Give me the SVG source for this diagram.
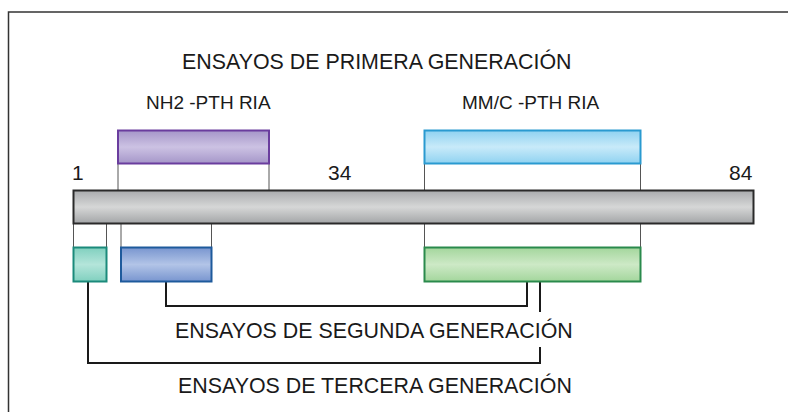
<svg xmlns="http://www.w3.org/2000/svg" width="788" height="412" viewBox="0 0 788 412">
<style>
  text { font-family: "Liberation Sans", Arial, sans-serif; fill: #1a1a1a; }
  .title { font-size: 21.4px; }
  .lbl { font-size: 19px; }
  .num { font-size: 21px; }
  .tick { stroke: #555; stroke-width: 1; fill: none; }
  .br { stroke: #1a1a1a; stroke-width: 2; fill: none; }
</style>
<defs>
  <linearGradient id="gGray" x1="0" y1="0" x2="0" y2="1">
    <stop offset="0" stop-color="#a9abad"/><stop offset="0.5" stop-color="#d6d7d7"/><stop offset="1" stop-color="#a3a5a7"/>
  </linearGradient>
  <linearGradient id="gPurple" x1="0" y1="0" x2="0" y2="1">
    <stop offset="0" stop-color="#a596c9"/><stop offset="0.5" stop-color="#ccc2e3"/><stop offset="1" stop-color="#a596c9"/>
  </linearGradient>
  <linearGradient id="gSky" x1="0" y1="0" x2="0" y2="1">
    <stop offset="0" stop-color="#8fd2f1"/><stop offset="0.5" stop-color="#c8eaf9"/><stop offset="1" stop-color="#8fd2f1"/>
  </linearGradient>
  <linearGradient id="gTeal" x1="0" y1="0" x2="0" y2="1">
    <stop offset="0" stop-color="#80d0bf"/><stop offset="0.5" stop-color="#b4e5da"/><stop offset="1" stop-color="#80d0bf"/>
  </linearGradient>
  <linearGradient id="gBlue" x1="0" y1="0" x2="0" y2="1">
    <stop offset="0" stop-color="#7895cf"/><stop offset="0.5" stop-color="#b2c4e7"/><stop offset="1" stop-color="#7895cf"/>
  </linearGradient>
  <linearGradient id="gGreen" x1="0" y1="0" x2="0" y2="1">
    <stop offset="0" stop-color="#a3d69c"/><stop offset="0.5" stop-color="#cde9c6"/><stop offset="1" stop-color="#a3d69c"/>
  </linearGradient>
</defs>
<rect x="0" y="0" width="788" height="412" fill="#ffffff"/>
<path d="M8.5 412 V12 H788" fill="none" stroke="#333" stroke-width="1.5"/>

<text class="title" x="182" y="69">ENSAYOS DE PRIMERA GENERACIÓN</text>

<g id="connectors">
  <path class="tick" d="M118 164 V190 M269 164 V190 M424.5 164 V190 M640.5 164 V190"/>
  <path class="tick" d="M73.5 224 V247 M106.5 224 V247 M121 224 V247 M211.5 224 V247 M424.5 224 V247 M640.5 224 V247"/>
  <path class="br" d="M166 282 V306 H527 V282"/>
  <path class="br" d="M540 282 V312"/>
  <path class="br" d="M540 347 V363 H88 V282"/>
</g>

<g id="protein">
  <rect x="73.5" y="190.5" width="680" height="33" fill="url(#gGray)" stroke="#2a2a2a" stroke-width="2"/>
  <text class="num" x="72" y="180">1</text>
  <text class="num" x="328" y="180">34</text>
  <text class="num" x="729" y="180">84</text>
</g>

<g id="nh2-pth-ria">
  <rect x="118" y="130.5" width="151" height="33" fill="url(#gPurple)" stroke="#6a3d9e" stroke-width="2"/>
  <text class="lbl" x="146" y="109">NH2 -PTH RIA</text>
</g>

<g id="mmc-pth-ria">
  <rect x="424.5" y="130.5" width="216" height="33" fill="url(#gSky)" stroke="#2a9ad0" stroke-width="2"/>
  <text class="lbl" x="462" y="109">MM/C -PTH RIA</text>
</g>

<g id="teal-box">
  <rect x="73.5" y="247.5" width="33" height="34" fill="url(#gTeal)" stroke="#1b8a7b" stroke-width="2"/>
</g>

<g id="blue-box">
  <rect x="121" y="247.5" width="90.5" height="34" fill="url(#gBlue)" stroke="#1e5a9c" stroke-width="2"/>
</g>

<g id="green-box">
  <rect x="424.5" y="247.5" width="216" height="34" fill="url(#gGreen)" stroke="#2a8a4c" stroke-width="2"/>
</g>

<text class="title" x="175" y="338">ENSAYOS DE SEGUNDA GENERACIÓN</text>
<text class="title" x="178" y="393">ENSAYOS DE TERCERA GENERACIÓN</text>
</svg>
